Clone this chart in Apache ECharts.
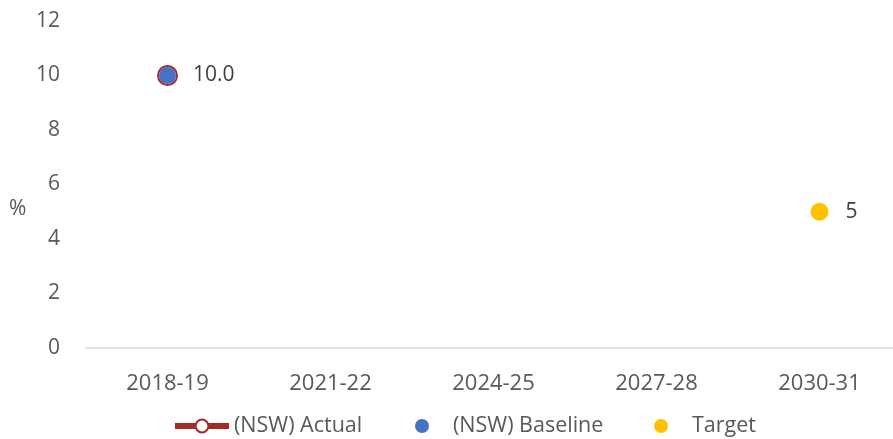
<!DOCTYPE html>
<html>
<head>
<meta charset="utf-8">
<script src="https://cdn.jsdelivr.net/npm/echarts@6/dist/echarts.min.js"></script>
<style>
html,body{margin:0;padding:0;background:#fff;}
#main{width:893px;height:439px;}
</style>
</head>
<body>
<div id="main"></div>
<script>
var categories = ["2018-19", "2021-22", "2024-25", "2027-28", "2030-31"];
var actual = [10, null, null, null, null];
var baseline = [10, null, null, null, null];
var target = [null, null, null, null, 5];
var yTicks = [0, 2, 4, 6, 8, 10, 12];

var font = "'Open Sans', Calibri, sans-serif";
var txt = "#595959";

var option = {
    animation: false,
    textStyle: { fontFamily: font },
    title: {
        text: "%",
        left: 9, top: 199, padding: 0,
        textStyle: { fontSize: 21, fontWeight: "normal", color: txt, fontFamily: font }
    },
    grid: { left: 86, right: -8, top: 21, bottom: 91, outerBoundsMode: "none" },
    legend: [{
        data: ["(NSW) Actual"],
        left: 172, top: 415, padding: 0,
        itemWidth: 54, itemHeight: 16,
        lineStyle: { width: 6, color: "#a52a2a" },
        itemStyle: { borderWidth: 2.5 },
        textStyle: { fontSize: 21.5, color: txt, fontFamily: font }
    }, {
        data: [{ name: "(NSW) Baseline", icon: "circle" }],
        left: 415, top: 415, padding: 0,
        itemWidth: 14, itemHeight: 14,
        textStyle: { fontSize: 21.5, color: txt, fontFamily: font, padding: [0, 0, 0, 19] }
    }, {
        data: [{ name: "Target", icon: "circle" }],
        left: 654, top: 415, padding: 0,
        itemWidth: 14, itemHeight: 14,
        textStyle: { fontSize: 21.5, color: txt, fontFamily: font, padding: [0, 0, 0, 19] }
    }],
    xAxis: {
        type: "category",
        data: categories,
        axisLine: { lineStyle: { color: "#d9d9d9", width: 1.5 } },
        axisTick: { show: false },
        axisLabel: { fontSize: 22, color: txt, margin: 25 }
    },
    yAxis: {
        type: "value",
        min: yTicks[0],
        max: yTicks[yTicks.length - 1],
        interval: 2,
        axisLine: { show: false },
        axisTick: { show: false },
        splitLine: { show: false },
        axisLabel: { fontSize: 21, color: txt, margin: 26 }
    },
    series: [{
        name: "(NSW) Actual",
        type: "line",
        data: actual,
        symbol: "emptyCircle",
        symbolSize: 19,
        lineStyle: { color: "#a52a2a", width: 5 },
        itemStyle: { color: "#a52a2a", borderWidth: 2 },
        z: 1
    }, {
        name: "(NSW) Baseline",
        type: "scatter",
        data: baseline,
        symbolSize: 17,
        itemStyle: { color: "#4472c4", opacity: 1 },
        label: {
            show: true, position: "right", distance: 17,
            fontSize: 21, color: "#404040",
            formatter: function (p) { return p.value.toFixed(1); }
        },
        z: 3
    }, {
        name: "Target",
        type: "scatter",
        data: target,
        symbolSize: 18,
        itemStyle: { color: "#ffc000", opacity: 1 },
        label: {
            show: true, position: "right", distance: 17,
            fontSize: 21, color: "#404040"
        },
        z: 3
    }]
};

var chart = echarts.init(document.getElementById("main"));
chart.setOption(option);
</script>
</body>
</html>
